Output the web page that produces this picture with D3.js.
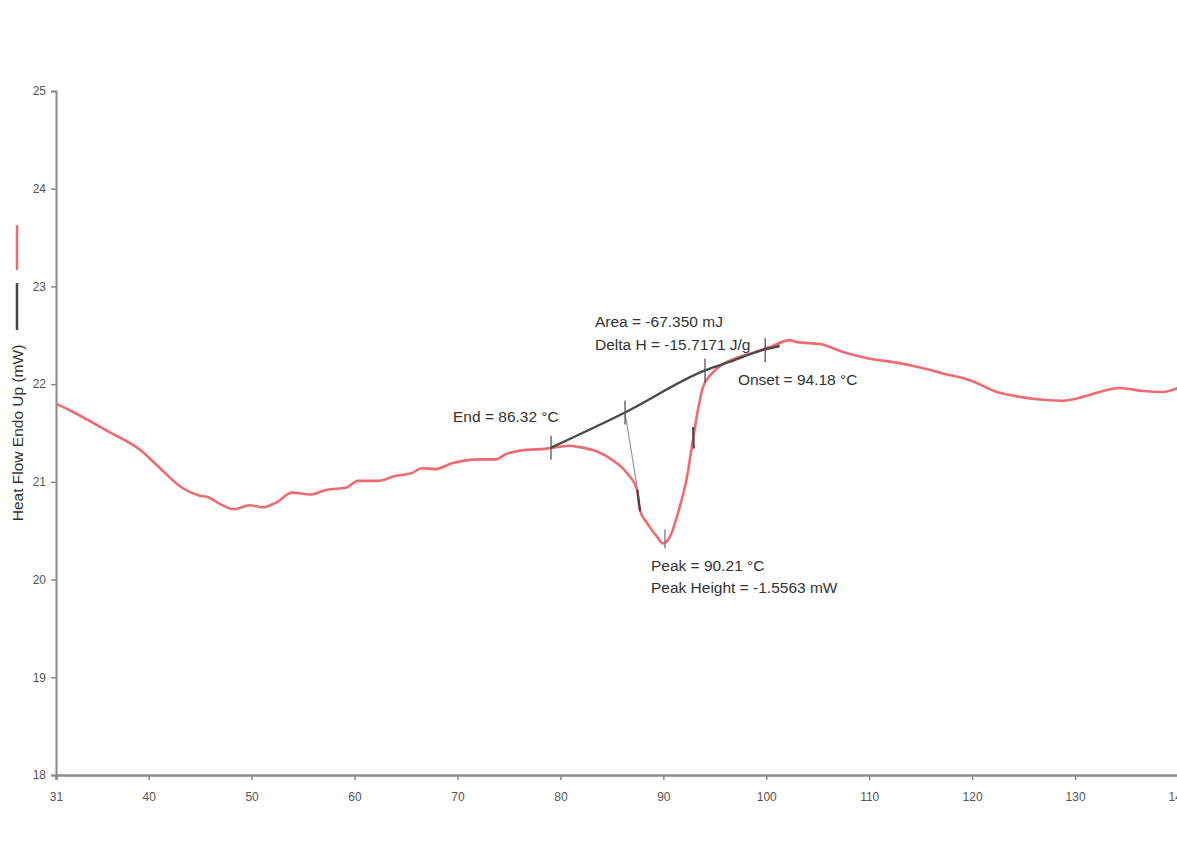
<!DOCTYPE html>
<html>
<head>
<meta charset="utf-8">
<script src="https://cdn.jsdelivr.net/npm/d3@7"></script>
<style>
  html, body { margin: 0; padding: 0; background: #fff; }
  svg { display: block; font-family: "Liberation Sans", Arial, sans-serif; }
</style>
</head>
<body>
<svg id="chart" width="1177" height="859"></svg>
<script>
// ---- data ----
const xTicks = [31, 40, 50, 60, 70, 80, 90, 100, 110, 120, 130, 140];
const yTicks = [18, 19, 20, 21, 22, 23, 24, 25];

const temperature = [31.0, 32.75, 36.01, 39.26, 40.91, 43.24, 44.89, 45.86, 46.83, 48.29, 49.80, 51.11, 52.42, 53.93,
  55.67, 57.33, 59.17, 60.34, 62.28, 63.93, 65.58, 66.55, 67.82, 69.47, 72.09, 73.74, 74.62, 76.07, 78.70,
  80.93, 81.61, 83.56, 85.11, 86.47, 87.44, 87.73, 88.41, 89.38, 89.97, 90.65, 91.42, 92.30, 92.88, 93.37,
  93.85, 94.73, 95.70, 97.16, 98.71, 100.36, 102.30, 102.98, 105.22, 107.45, 110.08, 112.70, 114.93, 117.17,
  119.79, 122.41, 124.65, 126.88, 128.82, 130.77, 132.71, 134.36, 136.60, 138.54, 140.0];
const heatFlow = [21.80, 21.71, 21.52, 21.32, 21.16, 20.94, 20.86, 20.84, 20.78, 20.72, 20.76, 20.74, 20.79, 20.89,
  20.87, 20.92, 20.94, 21.01, 21.01, 21.06, 21.09, 21.14, 21.13, 21.19, 21.23, 21.23, 21.28, 21.32, 21.34,
  21.37, 21.36, 21.31, 21.22, 21.09, 20.92, 20.71, 20.58, 20.44, 20.37, 20.44, 20.68, 21.05, 21.43, 21.74,
  21.97, 22.11, 22.20, 22.27, 22.32, 22.38, 22.45, 22.43, 22.41, 22.33, 22.26, 22.22, 22.17, 22.11,
  22.04, 21.92, 21.87, 21.84, 21.83, 21.87, 21.93, 21.96, 21.93, 21.92, 21.96];

// integration baseline
const baselineT  = [79.09, 86.28, 94.05, 96.47, 99.68, 101.3];
const baselineHF = [21.35, 21.71, 22.14, 22.23, 22.35, 22.39];
// tick marks along the baseline / peak
const markT  = [79.09, 86.28, 94.05, 99.9];
const markHF = [21.35, 21.71, 22.14, 22.35];
const peakT = 90.16, peakHF = 20.37;
// helper lines from baseline to curve
const dropT  = [86.28, 87.54];
const dropHF = [21.71, 20.89];
const tangentA = { t: [87.47, 87.75], hf: [20.92, 20.70] };
const tangentB = { t: [92.88, 92.97], hf: [21.56, 21.34] };

// annotation texts and their anchors (temperature, heat flow)
const annoText = ["Area = -67.350 mJ", "Delta H = -15.7171 J/g", "End = 86.32 °C", "Onset = 94.18 °C",
  "Peak = 90.21 °C", "Peak Height = -1.5563 mW"];
const annoT  = [83.36, 83.36, 69.57, 97.25, 88.80, 88.80];
const annoHF = [22.64, 22.41, 21.67, 22.05, 20.14, 19.92];

const yLabel = "Heat Flow Endo Up (mW)";

// ---- drawing ----
const svg = d3.select("#chart");
const x = d3.scaleLinear().domain([31, 140]).range([56, 1178]);
const y = d3.scaleLinear().domain([18, 25]).range([775, 91]);
const axisColor = "#8a8a8a";
const labelColor = "#555";

// y axis
const yAxis = svg.append("g").attr("transform", `translate(${x(31)},0)`)
  .call(d3.axisLeft(y).tickValues(yTicks).tickSize(5).tickPadding(5).tickFormat(d3.format("d")));
yAxis.select(".domain").attr("stroke", axisColor).attr("stroke-width", 2);
yAxis.selectAll(".tick line").attr("stroke", axisColor).attr("stroke-width", 1.5);
yAxis.selectAll(".tick text").attr("fill", labelColor).style("font-size", "12px");

// x axis
const xAxis = svg.append("g").attr("transform", `translate(0,${y(18)})`)
  .call(d3.axisBottom(x).tickValues(xTicks).tickSize(5).tickPadding(12).tickFormat(d3.format("d")));
xAxis.select(".domain").attr("stroke", axisColor).attr("stroke-width", 2.5);
xAxis.selectAll(".tick line").attr("stroke", axisColor).attr("stroke-width", 1.5);
xAxis.selectAll(".tick text").attr("fill", labelColor).style("font-size", "12px");

// helper thin line
const line = d3.line().x(d => x(d[0])).y(d => y(d[1]));
svg.append("path").datum(d3.zip(dropT, dropHF)).attr("d", line)
  .attr("fill", "none").attr("stroke", "#999").attr("stroke-width", 1.2);

// curve
const curve = d3.line().x(d => x(d[0])).y(d => y(d[1])).curve(d3.curveMonotoneX);
svg.append("path").datum(d3.zip(temperature, heatFlow)).attr("d", curve)
  .attr("fill", "none").attr("stroke", "#ee6b72").attr("stroke-width", 2.6);

// tangent marks on curve
[tangentA, tangentB].forEach(tg => {
  svg.append("path").datum(d3.zip(tg.t, tg.hf)).attr("d", line)
    .attr("fill", "none").attr("stroke", "#444").attr("stroke-width", 2);
});

// baseline
svg.append("path").datum(d3.zip(baselineT, baselineHF)).attr("d", curve)
  .attr("fill", "none").attr("stroke", "#4a4a4a").attr("stroke-width", 2.4);

// vertical marks
d3.zip(markT, markHF).forEach(([t, h]) => {
  svg.append("line").attr("x1", x(t)).attr("x2", x(t)).attr("y1", y(h) - 12).attr("y2", y(h) + 12)
    .attr("stroke", "#555").attr("stroke-width", 1.3);
});
svg.append("line").attr("x1", x(peakT)).attr("x2", x(peakT)).attr("y1", y(peakHF) - 14).attr("y2", y(peakHF) + 5)
  .attr("stroke", "#777").attr("stroke-width", 1.3);

// annotations
annoText.forEach((txt, i) => {
  svg.append("text").attr("x", x(annoT[i])).attr("y", y(annoHF[i])).attr("dy", "0.35em")
    .attr("fill", "#333").style("font-size", "15.5px").text(txt);
});

// y-axis label with legend swatches
svg.append("line").attr("x1", 17).attr("x2", 17).attr("y1", 225).attr("y2", 270)
  .attr("stroke", "#ee6b72").attr("stroke-width", 2.5);
svg.append("line").attr("x1", 17).attr("x2", 17).attr("y1", 283).attr("y2", 330)
  .attr("stroke", "#444").attr("stroke-width", 2.5);
svg.append("text").attr("transform", "translate(18,433) rotate(-90)")
  .attr("text-anchor", "middle").attr("dy", "0.35em").attr("fill", "#333")
  .style("font-size", "15.5px").text(yLabel);
</script>
</body>
</html>
